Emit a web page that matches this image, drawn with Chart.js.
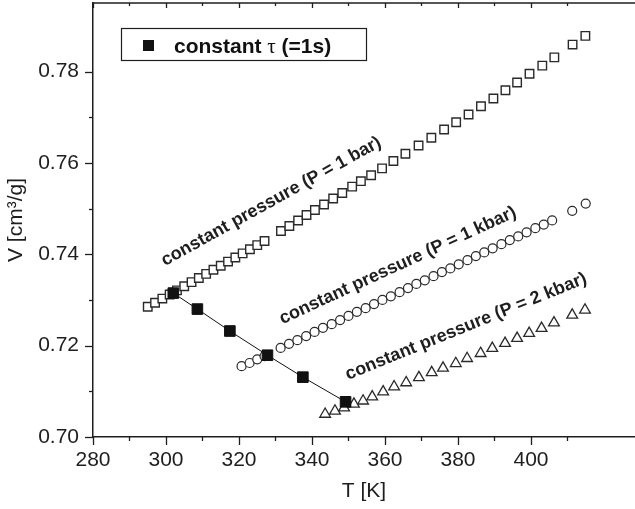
<!DOCTYPE html>
<html>
<head>
<meta charset="utf-8">
<script src="https://cdn.jsdelivr.net/npm/chart.js@4.4.0/dist/chart.umd.min.js"></script>
<style>
body { margin: 0; background: #fff; }
</style>
</head>
<body>
<canvas id="chart" width="635" height="509"></canvas>
<script>
// constant pressure P = 1 bar (open squares)
var tempBar = [295, 297, 299, 301, 303, 305, 307, 309, 311, 313, 315, 317, 319, 321, 323, 325, 327,
    331.5, 333.8, 336.2, 338.5, 340.8, 343.3, 345.8, 348.3, 351.0, 353.4, 356.2, 359.2, 362.3, 365.6,
    369.2, 372.7, 376.2, 379.5, 382.9, 386.3, 389.7, 393.0, 396.2, 399.6, 403.1, 406.4, 411.4, 414.9];
var volBar = [0.7285, 0.7294, 0.7303, 0.7312, 0.7321, 0.7330, 0.7339, 0.7348, 0.7357, 0.7366, 0.7375,
    0.7384, 0.7393, 0.7402, 0.7411, 0.7420, 0.7429,
    0.7451, 0.7462, 0.7474, 0.7486, 0.7497, 0.7509, 0.7522, 0.7534, 0.7548, 0.7560, 0.7573, 0.7588,
    0.7604, 0.7620, 0.7638, 0.7655, 0.7673, 0.7689, 0.7706, 0.7724, 0.7741, 0.7759, 0.7776, 0.7795,
    0.7813, 0.7831, 0.7859, 0.7878];

// constant pressure P = 1 kbar (open circles)
var tempKbar1 = [320.7, 322.9, 325.0, 327.0,
    331.4, 333.7, 336.0, 338.4, 340.7, 343.0, 345.4, 347.7, 350.0, 352.3, 354.7, 357.0, 359.3, 361.6,
    364.0, 366.3, 368.6, 370.9, 373.3, 375.6, 377.9, 380.2, 382.6, 384.9, 387.2, 389.5, 391.9, 394.2,
    396.5, 398.8, 401.2, 403.5, 405.8, 411.3, 415.0];
var volKbar1 = [0.7155, 0.7162, 0.7170, 0.7177,
    0.7195, 0.7204, 0.7212, 0.7221, 0.7230, 0.7239, 0.7247, 0.7256, 0.7265, 0.7274, 0.7282, 0.7291,
    0.7300, 0.7308, 0.7317, 0.7326, 0.7335, 0.7343, 0.7352, 0.7361, 0.7369, 0.7378, 0.7387, 0.7396,
    0.7404, 0.7413, 0.7422, 0.7431, 0.7439, 0.7448, 0.7457, 0.7465, 0.7474, 0.7495, 0.7511];

// constant pressure P = 2 kbar (open triangles)
var tempKbar2 = [343.6, 346.3, 348.8, 351.5, 354.0, 356.5, 359.5, 362.5, 365.8, 369.3, 372.8, 375.9,
    379.4, 382.5, 386.2, 389.4, 392.9, 396.2, 399.5, 402.9, 406.3, 411.3, 414.8];
var volKbar2 = [0.7050, 0.7057, 0.7064, 0.7072, 0.7079, 0.7088, 0.7099, 0.7110, 0.7119, 0.7130, 0.7141,
    0.7151, 0.7161, 0.7172, 0.7183, 0.7194, 0.7205, 0.7216, 0.7227, 0.7238, 0.7250, 0.7267, 0.7278];

// constant tau (=1s) (filled squares with line)
var tempTau = [302.0, 308.6, 317.5, 327.8, 337.5, 349.2];
var volTau = [0.7315, 0.7280, 0.7232, 0.7179, 0.7131, 0.7077];

var xLabelStep = 20;
var yLabelStep = 0.02;

var fontFamily = '"Liberation Sans", Arial, Helvetica, sans-serif';
var ink = '#1e1e1e';

var annotations = [
    {text: 'constant pressure (P = 1 bar)', x: 299.7, y: 0.7374, angle: -29},
    {text: 'constant pressure (P = 1 kbar)', x: 331.9, y: 0.7247, angle: -24.7},
    {text: 'constant pressure (P = 2 kbar)', x: 349.9, y: 0.7125, angle: -22.1}
];

function toPoints(xs, ys) {
    var pts = [];
    for (var i = 0; i < xs.length; i++) {
        pts.push({x: xs[i], y: ys[i]});
    }
    return pts;
}

function isMultiple(v, step) {
    var q = v / step;
    return Math.abs(q - Math.round(q)) < 1e-6;
}

function line(ctx, x1, y1, x2, y2) {
    ctx.beginPath();
    ctx.moveTo(x1, y1);
    ctx.lineTo(x2, y2);
    ctx.stroke();
}

// no extra room for overflowing end labels
function noPadding(scale) {
    scale.paddingTop = 0;
    scale.paddingBottom = 0;
    scale.paddingLeft = 0;
    scale.paddingRight = 0;
}

var framePlugin = {
    id: 'frame',
    afterDraw: function (chart) {
        var ctx = chart.ctx;
        var a = chart.chartArea;
        var xs = chart.scales.x;
        var ys = chart.scales.y;
        ctx.save();
        ctx.strokeStyle = ink;
        ctx.lineWidth = 1.5;
        line(ctx, a.left, a.top, a.right, a.top);
        ctx.lineWidth = 1.3;
        xs.ticks.forEach(function (t) {
            if (!isMultiple(t.value, 10)) return;
            var px = Math.round(xs.getPixelForValue(t.value)) + 0.5;
            var major = isMultiple(t.value, xLabelStep);
            line(ctx, px, a.bottom, px, a.bottom + (major ? 8 : 4));
            line(ctx, px, a.top, px, a.top + (major ? 5 : 3));
        });
        ys.ticks.forEach(function (t) {
            if (!isMultiple(t.value, 0.01)) return;
            var py = Math.round(ys.getPixelForValue(t.value)) + 0.5;
            var major = isMultiple(t.value, yLabelStep);
            line(ctx, a.left - (major ? 8 : 4), py, a.left, py);
        });

        // rotated series labels
        ctx.fillStyle = ink;
        ctx.font = 'bold 18px ' + fontFamily;
        ctx.textBaseline = 'alphabetic';
        ctx.textAlign = 'left';
        annotations.forEach(function (an) {
            ctx.save();
            ctx.translate(xs.getPixelForValue(an.x), ys.getPixelForValue(an.y));
            ctx.rotate(an.angle * Math.PI / 180);
            ctx.fillText(an.text, 0, 0);
            ctx.restore();
        });

        // legend box
        ctx.lineWidth = 1.2;
        ctx.strokeRect(121.5, 28.5, 245, 32);
        ctx.fillStyle = '#111';
        ctx.fillRect(143, 40, 11, 11);
        var tx = 174, ty = 53;
        ctx.font = 'bold 21px ' + fontFamily;
        ctx.fillText('constant ', tx, ty);
        tx += ctx.measureText('constant ').width;
        ctx.font = '21px "Liberation Serif", "Times New Roman", serif';
        ctx.fillText('\u03c4', tx, ty);
        tx += ctx.measureText('\u03c4').width;
        ctx.font = 'bold 21px ' + fontFamily;
        ctx.fillText(' (=1s)', tx, ty);
        ctx.restore();
    }
};

function drawGraph() {
    var chart = new Chart(document.getElementById('chart').getContext('2d'), {
        type: 'scatter',
        data: {
            datasets: [{
                label: 'constant tau (=1s)',
                data: toPoints(tempTau, volTau),
                showLine: true,
                borderColor: '#111',
                borderWidth: 1,
                pointStyle: 'rect',
                pointRadius: 7.5,
                pointBackgroundColor: '#111',
                pointBorderColor: '#111',
                pointBorderWidth: 1
            }, {
                label: 'constant pressure (P = 1 bar)',
                data: toPoints(tempBar, volBar),
                pointStyle: 'rect',
                pointRadius: 6,
                pointBackgroundColor: '#fff',
                pointBorderColor: '#2a2a2a',
                pointBorderWidth: 1.4
            }, {
                label: 'constant pressure (P = 1 kbar)',
                data: toPoints(tempKbar1, volKbar1),
                pointStyle: 'circle',
                pointRadius: 4.5,
                pointBackgroundColor: '#fff',
                pointBorderColor: '#2a2a2a',
                pointBorderWidth: 1.2
            }, {
                label: 'constant pressure (P = 2 kbar)',
                data: toPoints(tempKbar2, volKbar2),
                pointStyle: 'triangle',
                pointRadius: 6.2,
                pointBackgroundColor: '#fff',
                pointBorderColor: '#2a2a2a',
                pointBorderWidth: 1.3
            }]
        },
        options: {
            responsive: false,
            animation: false,
            layout: {autoPadding: false, padding: {top: 3, right: 0, left: 0, bottom: 0}},
            plugins: {
                legend: {display: false},
                tooltip: {enabled: false}
            },
            scales: {
                x: {
                    type: 'linear',
                    min: 280,
                    max: 428.5,
                    afterFit: function (scale) {
                        scale.height = 72;
                        noPadding(scale);
                    },
                    grid: {display: false, drawTicks: false},
                    border: {display: true, color: ink, width: 1.5},
                    ticks: {
                        stepSize: 10,
                        autoSkip: false,
                        maxRotation: 0,
                        padding: 11,
                        color: ink,
                        font: {family: fontFamily, size: 21},
                        callback: function (value) {
                            return isMultiple(value, xLabelStep) ? String(Math.round(value)) : '';
                        }
                    },
                    title: {
                        display: true,
                        text: 'T [K]',
                        color: ink,
                        font: {family: fontFamily, size: 21},
                        padding: {top: 0, bottom: 5}
                    }
                },
                y: {
                    type: 'linear',
                    min: 0.70,
                    max: 0.795,
                    afterFit: function (scale) {
                        scale.width = 93;
                        noPadding(scale);
                    },
                    grid: {display: false, drawTicks: false},
                    border: {display: true, color: ink, width: 1.5},
                    ticks: {
                        stepSize: 0.01,
                        autoSkip: false,
                        padding: 14,
                        color: ink,
                        font: {family: fontFamily, size: 21},
                        callback: function (value) {
                            return isMultiple(value, yLabelStep) ? value.toFixed(2) : '';
                        }
                    },
                    title: {
                        display: true,
                        text: 'V [cm\u00b3/g]',
                        color: ink,
                        font: {family: fontFamily, size: 21},
                        padding: {top: 4, bottom: 0}
                    }
                }
            }
        },
        plugins: [framePlugin]
    });
    return chart;
}

drawGraph();
</script>
</body>
</html>
